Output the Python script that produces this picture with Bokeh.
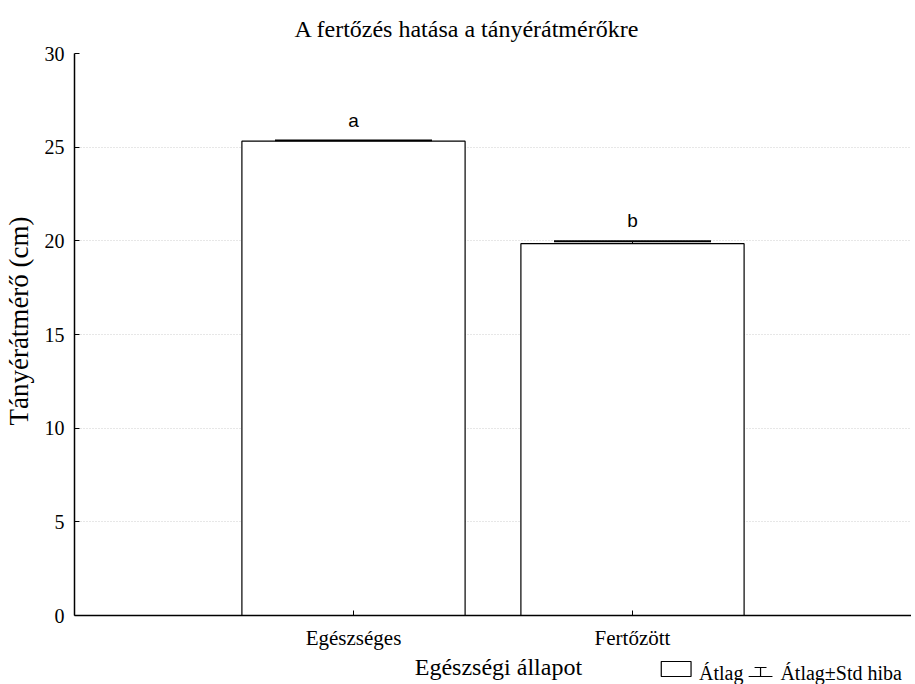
import numpy as np
from bokeh.plotting import figure
from bokeh.layouts import column
from bokeh.models import (ColumnDataSource, FactorRange, Range1d, Whisker, TeeHead,
                          FixedTicker)
from bokeh.core.properties import value
from bokeh.embed import file_html
from bokeh.resources import INLINE

# ---- data ----
categories = ["Egészséges", "Fertőzött"]
means = [25.32, 19.85]
std_err = [0.03, 0.13]
letters = ["a", "b"]
y_ticks = [0, 5, 10, 15, 20, 25, 30]

title_text = "A fertőzés hatása a tányérátmérőkre"
x_label = "Egészségi állapot"
y_label = "Tányérátmérő (cm)"
legend_labels = ["Átlag", "Átlag±Std hiba"]

SERIF = "Liberation Serif"
SANS = "Liberation Sans"

means_a = np.array(means)
se_a = np.array(std_err)
src = ColumnDataSource(dict(
    cat=categories, mean=means, upper=list(means_a + se_a), lower=list(means_a - se_a),
    letter=letters, ly=list(means_a + se_a + 1.1),
))

FW, FH = 837, 562
LEFT = 68
W = LEFT + FW
p = figure(x_range=FactorRange(factors=categories, range_padding=0.5,
                               range_padding_units="absolute"),
           y_range=Range1d(0, 30),
           frame_width=FW, frame_height=FH,
           min_border_left=LEFT, min_border_right=0, min_border_top=53, min_border_bottom=40,
           output_backend="svg", toolbar_location=None, background_fill_color="white",
           border_fill_color="white")
p.outline_line_color = None
p.title.text = title_text
p.title.align = "left"
p.title.offset = 220
p.title.text_font = SERIF
p.title.text_font_style = "normal"
p.title.text_font_size = "24px"
p.title.text_color = "black"
p.title.standoff = 24

p.vbar(x="cat", top="mean", width=0.8, source=src, fill_color="white",
       line_color="black", line_width=1.2)

p.add_layout(Whisker(base="cat", upper="upper", lower="lower", source=src,
                     line_color="black", line_width=1,
                     upper_head=TeeHead(size=157, line_width=2, line_color="black"),
                     lower_head=TeeHead(size=157, line_width=2, line_color="black")))

p.text(x="cat", y="ly", text="letter", source=src, text_align="center",
       text_baseline="middle", text_font=value(SANS), text_font_size="19px",
       text_color="black")

# axes
p.xgrid.grid_line_color = None
p.ygrid.grid_line_color = "#cfcfcf"
p.ygrid.grid_line_dash = "1 2"
p.yaxis.ticker = FixedTicker(ticks=y_ticks)
p.yaxis.minor_tick_line_color = None
p.yaxis.major_tick_in = 5
p.yaxis.major_tick_out = 0
p.yaxis.major_label_standoff = 10
p.yaxis.axis_line_width = 1.5
p.yaxis.major_label_text_font = SERIF
p.yaxis.major_label_text_font_size = "20px"
p.yaxis.major_label_text_color = "black"
p.yaxis.axis_label = "\u00a0\u00a0\u00a0\u00a0" + y_label
p.yaxis.axis_label_text_font = SERIF
p.yaxis.axis_label_text_font_style = "normal"
p.yaxis.axis_label_text_font_size = "27px"
p.yaxis.axis_label_text_color = "black"
p.yaxis.axis_label_standoff = 8

p.xaxis.major_tick_in = 5
p.xaxis.major_tick_out = 0
p.xaxis.axis_line_width = 1.5
p.xaxis.major_label_standoff = 10
p.xaxis.major_label_text_font = SERIF
p.xaxis.major_label_text_font_size = "21px"
p.xaxis.major_label_text_color = "black"

# ---- bottom strip: x-axis title and legend (pixel-like coordinates) ----
H2 = 29
s = figure(width=W, height=H2, x_range=Range1d(LEFT, W), y_range=Range1d(0, H2),
           min_border_left=LEFT, min_border_right=0, min_border_top=0, min_border_bottom=0,
           output_backend="svg", toolbar_location=None,
           x_axis_location=None, y_axis_location=None)
s.outline_line_color = None
s.xgrid.grid_line_color = None
s.ygrid.grid_line_color = None

s.text(x=[495], y=[18], text=[x_label], text_align="center", text_baseline="middle",
       text_font=value(SERIF), text_font_size="24px", text_color="black")
s.quad(left=[659], right=[689], bottom=[8], top=[23], fill_color="white",
       line_color="black", line_width=1.2)
s.text(x=[697], y=[12], text=[legend_labels[0]], text_align="left",
       text_baseline="alphabetic", text_font=value(SERIF), text_font_size="20px",
       text_color="black")
s.multi_line(xs=[[747, 771], [753, 765], [759, 759]], ys=[[8, 8], [17, 17], [8, 17]],
             line_color="black", line_width=1.2)
s.text(x=[779], y=[12], text=[legend_labels[1]], text_align="left",
       text_baseline="alphabetic", text_font=value(SERIF), text_font_size="20px",
       text_color="black")

layout = column(p, s, spacing=0)
open("out.html", "w").write(file_html(layout, INLINE))
